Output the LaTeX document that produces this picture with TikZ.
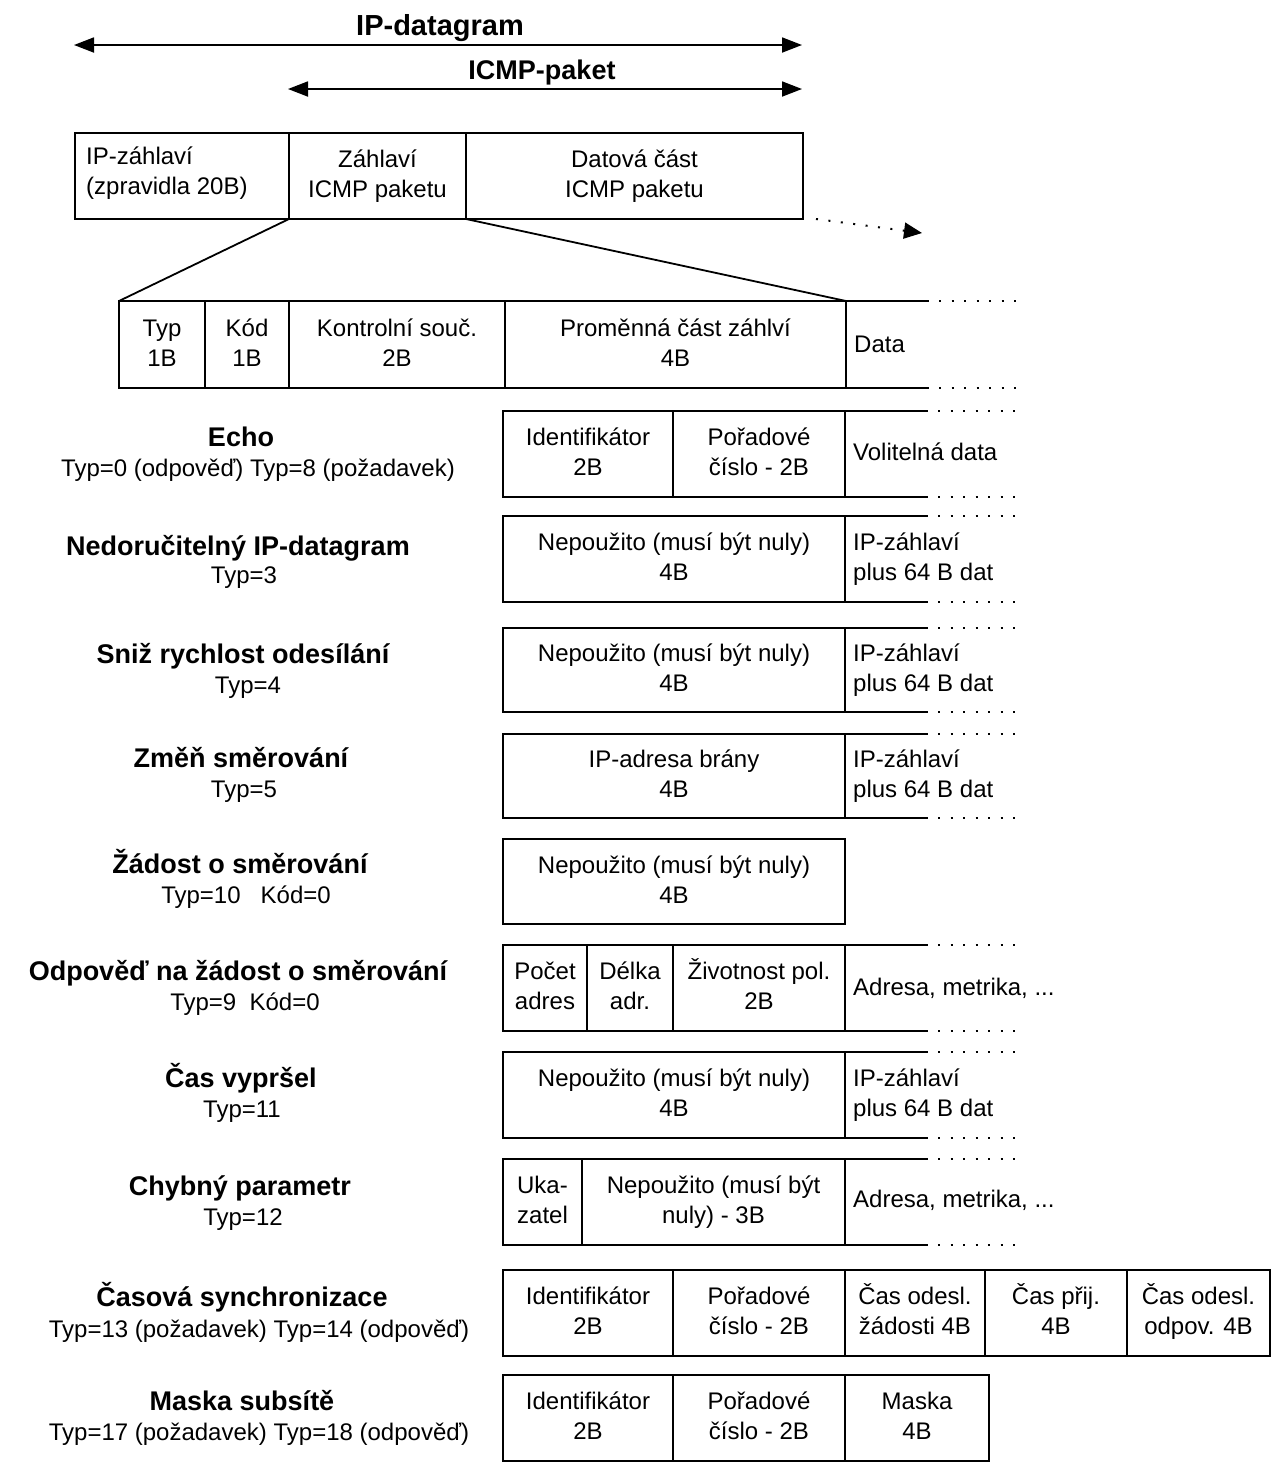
\documentclass[tikz,border=0pt]{standalone}
\usepackage{fontspec}
\setmainfont{Liberation Sans}
\usetikzlibrary{arrows.meta}
\newcommand\regtxt{\fontsize{24}{30}\selectfont}
\newcommand\boldtxt{\fontsize{27}{30}\selectfont\bfseries}
\newcommand\openrow[1]{%
  \draw[boxline] (#1.north east) -- ++(83,0);
  \draw[boxline] (#1.south east) -- ++(83,0);
  \draw[dotline] ([xshift=93pt]#1.north east) -- ++(80,0);
  \draw[dotline] ([xshift=93pt]#1.south east) -- ++(80,0);}
\begin{document}
\begin{tikzpicture}[x=1pt,y=-1pt,
  cell/.style={draw, line width=2.5pt, inner sep=0pt, outer sep=0pt, anchor=north west, align=center, font=\regtxt, text height=49pt, text depth=6pt},
  boxline/.style={line width=2.5pt},
  dotline/.style={line width=2pt, dash pattern=on 2pt off 10.5pt},
  datatxt/.style={anchor=west, align=left, inner sep=0pt, font=\regtxt},
  datatwo/.style={datatxt, text height=49pt, text depth=6pt},
  ttl/.style={anchor=base, inner sep=0pt, font=\boldtxt},
  sub/.style={anchor=base, inner sep=0pt, font=\regtxt},
  span/.style={line width=1.8pt, {Triangle[length=20pt,width=15pt]}-{Triangle[length=20pt,width=15pt]}},
  zoomline/.style={line width=1.8pt}]
\useasboundingbox (0,0) rectangle (1277,1468);

% top spans
\node[ttl, font=\fontsize{29}{30}\selectfont\bfseries] (lipd) at (440,35) {IP-datagram};
\node[ttl] (licmp) at (542,79) {ICMP-paket};
\coordinate (a1l) at (74,45);
\coordinate (a1r) at (802,45);
\coordinate (a2l) at (288,89);
\coordinate (a2r) at (802,89);
\draw[span] (a1l) -- (a1r);
\draw[span] (a2l) -- (a2r);

% IP datagram header
\node[cell, minimum width=214, minimum height=86] (hIP) at (75,133) {};
\node[datatwo] (hIPt) at (86,173) {IP-záhlaví\\(zpravidla 20B)};
\node[cell, minimum width=177, minimum height=86] (hICMP) at (289,133) {Záhlaví\\ICMP paketu};
\node[cell, minimum width=337, minimum height=86] (hData) at (466,133) {Datová část\\ICMP paketu};
\coordinate (dotS) at (816,219);
\coordinate (dotE) at (922,233);
\draw[dotline, -{Triangle[length=18pt,width=16pt]}] (dotS) -- (dotE);

% ICMP header
\node[cell, minimum width=86, minimum height=87] (cTyp) at (119,301) {Typ\\1B};
\node[cell, minimum width=84, minimum height=87] (cKod) at (205,301) {Kód\\1B};
\node[cell, minimum width=216, minimum height=87] (cSum) at (289,301) {Kontrolní souč.\\2B};
\node[cell, minimum width=341, minimum height=87] (cVar) at (505,301) {Proměnná část záhlví\\4B};
\openrow{cVar}
\node[datatxt] (cData) at (854,344) {Data};
\draw[zoomline] (hICMP.south west) -- (cTyp.north west);
\draw[zoomline] (hICMP.south east) -- (cVar.north east);

% Echo
\node[ttl] (t1) at (241,446) {Echo};
\node[sub] (s1) at (258,476) {Typ=0 (odpověď) Typ=8 (požadavek)};
\node[cell, minimum width=170, minimum height=86] (eA) at (503,411) {Identifikátor\\2B};
\node[cell, minimum width=172, minimum height=86] (eB) at (673,411) {Pořadové\\číslo - 2B};
\openrow{eB}
\node[datatxt] (eD) at (853,452) {Volitelná data};

% Nedorucitelny
\node[ttl] (t2) at (238,555) {Nedoručitelný IP-datagram};
\node[sub] (s2) at (244,583) {Typ=3};
\node[cell, minimum width=342, minimum height=86] (nA) at (503,516) {Nepoužito (musí být nuly)\\4B};
\openrow{nA}
\node[datatwo] (nD) at (853,559) {IP-záhlaví\\plus 64 B dat};

% Sniz
\node[ttl] (t3) at (243,663) {Sniž rychlost odesílání};
\node[sub] (s3) at (248,693) {Typ=4};
\node[cell, minimum width=342, minimum height=84] (sA) at (503,628) {Nepoužito (musí být nuly)\\4B};
\openrow{sA}
\node[datatwo] (sD) at (853,670) {IP-záhlaví\\plus 64 B dat};

% Zmen
\node[ttl] (t4) at (241,767) {Změň směrování};
\node[sub] (s4) at (244,797) {Typ=5};
\node[cell, minimum width=342, minimum height=84] (zA) at (503,734) {IP-adresa brány\\4B};
\openrow{zA}
\node[datatwo] (zD) at (853,776) {IP-záhlaví\\plus 64 B dat};

% Zadost
\node[ttl] (t5) at (240,873) {Žádost o směrování};
\node[sub] (s5) at (246,903) {Typ=10\ \ \ Kód=0};
\node[cell, minimum width=342, minimum height=85] (rA) at (503,839) {Nepoužito (musí být nuly)\\4B};

% Odpoved
\node[ttl] (t6) at (238,980) {Odpověď na žádost o směrování};
\node[sub] (s6) at (245,1010) {Typ=9\ \ Kód=0};
\node[cell, minimum width=84, minimum height=86] (oA) at (503,945) {Počet\\adres};
\node[cell, minimum width=86, minimum height=86] (oB) at (587,945) {Délka\\adr.};
\node[cell, minimum width=172, minimum height=86] (oC) at (673,945) {Životnost pol.\\2B};
\openrow{oC}
\node[datatxt] (oD) at (853,988) {Adresa, metrika, ...};

% Cas vyprsel
\node[ttl] (t7) at (241,1087) {Čas vypršel};
\node[sub] (s7) at (242,1117) {Typ=11};
\node[cell, minimum width=342, minimum height=86] (tA) at (503,1052) {Nepoužito (musí být nuly)\\4B};
\openrow{tA}
\node[datatwo] (tD) at (853,1095) {IP-záhlaví\\plus 64 B dat};

% Chybny parametr
\node[ttl] (t8) at (240,1195) {Chybný parametr};
\node[sub] (s8) at (243,1225) {Typ=12};
\node[cell, minimum width=79, minimum height=86] (pA) at (503,1159) {Uka-\\zatel};
\node[cell, minimum width=263, minimum height=86] (pB) at (582,1159) {Nepoužito (musí být\\nuly) - 3B};
\openrow{pB}
\node[datatxt] (pD) at (853,1200) {Adresa, metrika, ...};

% Casova synchronizace
\node[ttl] (t9) at (242,1306) {Časová synchronizace};
\node[sub] (s9) at (259,1337) {Typ=13 (požadavek) Typ=14 (odpověď)};
\node[cell, minimum width=170, minimum height=86] (cA) at (503,1270) {Identifikátor\\2B};
\node[cell, minimum width=172, minimum height=86] (cB) at (673,1270) {Pořadové\\číslo - 2B};
\node[cell, minimum width=140, minimum height=86] (cC) at (845,1270) {Čas odesl.\\žádosti 4B};
\node[cell, minimum width=142, minimum height=86] (cD) at (985,1270) {Čas přij.\\4B};
\node[cell, minimum width=143, minimum height=86] (cE) at (1127,1270) {Čas odesl.\\odpov. 4B};

% Maska subsite
\node[ttl] (t10) at (242,1410) {Maska subsítě};
\node[sub] (s10) at (259,1440) {Typ=17 (požadavek) Typ=18 (odpověď)};
\node[cell, minimum width=170, minimum height=86] (mA) at (503,1375) {Identifikátor\\2B};
\node[cell, minimum width=172, minimum height=86] (mB) at (673,1375) {Pořadové\\číslo - 2B};
\node[cell, minimum width=144, minimum height=86] (mC) at (845,1375) {Maska\\4B};
\end{tikzpicture}
\end{document}
